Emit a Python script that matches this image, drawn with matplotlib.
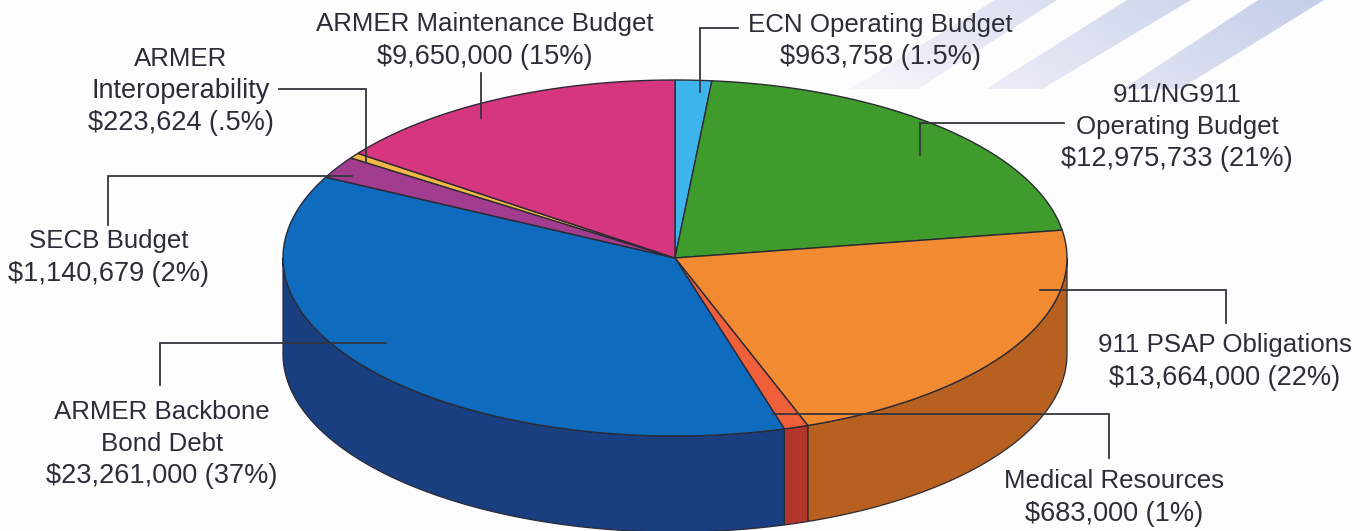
import numpy as np
import matplotlib.pyplot as plt

plt.rcParams['font.family'] = ['Liberation Sans', 'DejaVu Sans']

amounts = [963758, 12975733, 13664000, 683000, 23261000, 1140679, 223624, 9650000]
shares = [1.5, 21, 22, 1, 37, 2, 0.5, 15]
share_text = ['1.5%', '21%', '22%', '1%', '37%', '2%', '.5%', '15%']

top_colors = ['#3eb4ec', '#3f9b2b', '#f18a31', '#ef5f3a', '#0f6bbd', '#a23c8f', '#f3b843', '#d5367d']
side_colors = ['#2b86b5', '#2c7020', '#b8601f', '#b3352a', '#1a3f80', '#6f2a66', '#b88a30', '#962558']

# pie geometry in pixels
cx, cy = 675, 258
rx, ry = 392, 178
depth = 96
edge = '#2a2a35'
text_color = '#2b2e36'
name_size = 18.6
money_size = 19.5


def rim(a0, a1, drop=0):
    # angles run clockwise from twelve o'clock
    t = np.radians(np.linspace(a0, a1, max(int(abs(a1 - a0)) * 2, 2)))
    return cx + rx * np.sin(t), cy - ry * np.cos(t) + drop


def fmt_label(i):
    return f"${amounts[i]:,} ({share_text[i]})"


fig = plt.figure(figsize=(13.7, 5.31), dpi=100, facecolor='#fdfdfe')
ax = fig.add_axes([0, 0, 1, 1])

# pale diagonal bands, getting stronger towards the top right
u = np.linspace(0, 1, 256).reshape(1, -1)
v = np.linspace(1, 0, 128).reshape(-1, 1)
rgba = np.zeros((128, 256, 4))
rgba[..., :3] = np.array([0.77, 0.80, 0.91])
rgba[..., 3] = 0.12 + 0.88 * (0.75 * u + 0.25 * v)
bands = [(850, 918, 1057, 995), (986, 1042, 1191, 1127), (1123, 1180, 1324, 1258)]
for b0, b1, t1, t0 in bands:
    im = ax.imshow(rgba, extent=(850, 1330, 89, 0), aspect='auto', zorder=0)
    poly = plt.Polygon([(b0, 89), (b1, 89), (t1, 0), (t0, 0)], closed=True, fill=False, ec='none')
    ax.add_patch(poly)
    im.set_clip_path(poly)
ax.set_xlim(0, 1370)
ax.set_ylim(531, 0)
ax.axis('off')

ends = np.cumsum(shares) / np.sum(shares) * 360
starts = np.concatenate(([0], ends[:-1]))

# side wall, only the front half shows
for i in range(len(shares)):
    a0, a1 = max(starts[i], 90), min(ends[i], 270)
    if a1 <= a0:
        continue
    x_t, y_t = rim(a0, a1)
    x_b, y_b = rim(a0, a1, depth)
    ax.fill(np.concatenate((x_t, x_b[::-1])), np.concatenate((y_t, y_b[::-1])),
            fc=side_colors[i], ec=edge, lw=0.9, zorder=2)

# top face
for i in range(len(shares)):
    x_t, y_t = rim(starts[i], ends[i])
    ax.fill(np.concatenate(([cx], x_t)), np.concatenate(([cy], y_t)),
            fc=top_colors[i], ec=edge, lw=1.0, zorder=3)

# leader lines
leaders = [
    ([700, 700, 738], [92, 28, 28]),
    ([481, 481], [73, 118]),
    ([279, 366, 366], [89, 89, 163]),
    ([108, 108, 352], [225, 176, 176]),
    ([1064, 920, 920], [123, 123, 155]),
    ([1040, 1226, 1226], [290, 290, 323]),
    ([773, 1109, 1109], [414, 414, 458]),
    ([386, 160, 160], [343, 343, 385]),
]
for xs, ys in leaders:
    ax.plot(xs, ys, color='#33363c', lw=1.3, zorder=4, solid_joinstyle='miter')

labels = [
    (880, [25, 57], ['ECN Operating Budget', fmt_label(0)]),
    (1177, [95, 127, 159], ['911/NG911', 'Operating Budget', fmt_label(1)]),
    (1225, [345, 378], ['911 PSAP Obligations', fmt_label(2)]),
    (1114, [481, 514], ['Medical Resources', fmt_label(3)]),
    (162, [412, 444, 476], ['ARMER Backbone', 'Bond Debt', fmt_label(4)]),
    (109, [241, 274], ['SECB Budget', fmt_label(5)]),
    (181, [59, 91, 123], ['ARMER', 'Interoperability', fmt_label(6)]),
    (485, [24, 57], ['ARMER Maintenance Budget', fmt_label(7)]),
]
for x, ys, lines in labels:
    for y, line in zip(ys, lines):
        if line.startswith('$'):
            size = money_size
        elif line == 'Interoperability':
            size = money_size
        else:
            size = name_size
        ax.text(x, y, line, ha='center', va='center', fontsize=size, color=text_color, zorder=5)

plt.savefig('out.png', dpi=100, facecolor=fig.get_facecolor())
